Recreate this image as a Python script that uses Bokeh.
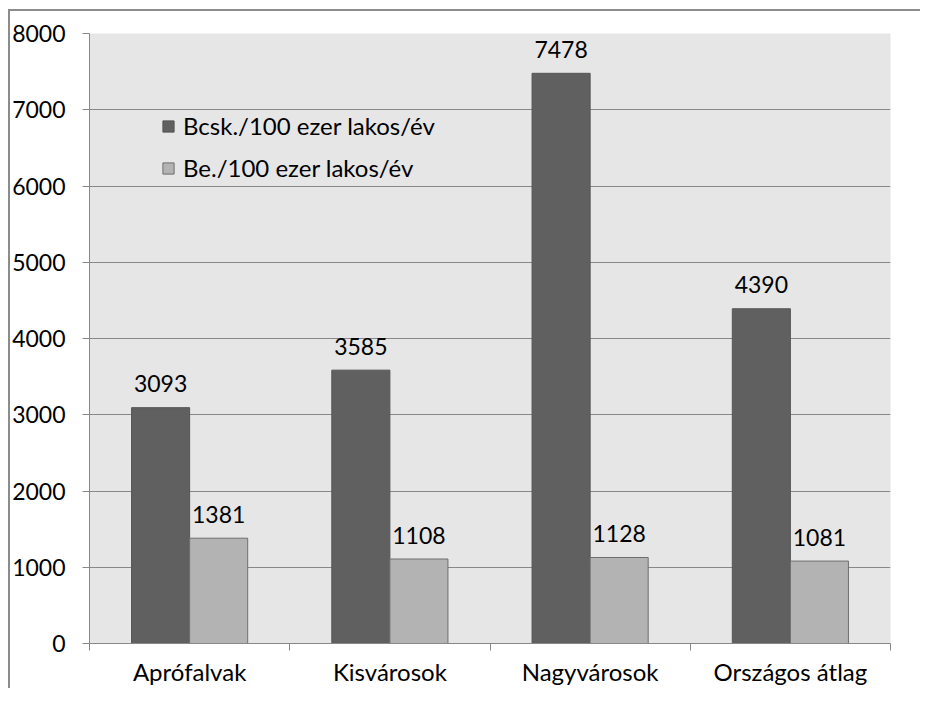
from bokeh.plotting import figure
from bokeh.models import Range1d, FixedTicker, ColumnDataSource, Legend, LegendItem
from bokeh.transform import dodge
from bokeh.core.properties import value
from bokeh.embed import file_html
from bokeh.resources import INLINE

categories = ["Aprófalvak", "Kisvárosok", "Nagyvárosok", "Országos átlag"]
series_names = ["Bcsk./100 ezer lakos/év", "Be./100 ezer lakos/év"]
bcsk = [3093, 3585, 7478, 4390]
be = [1381, 1108, 1128, 1081]
y_ticks = [0, 1000, 2000, 3000, 4000, 5000, 6000, 7000, 8000]

FONT = "Lato"
FS_NUM = "23px"
FS_TXT = "24px"

x = [i + 0.5 for i in range(len(categories))]
source = ColumnDataSource(dict(
    x=x, bcsk=bcsk, be=be,
    bcsk_lbl=[str(v) for v in bcsk], be_lbl=[str(v) for v in be],
))

p = figure(width=920, height=688, output_backend="svg", toolbar_location=None,
           x_range=Range1d(0, len(categories)), y_range=Range1d(0, 8000),
           min_border_left=89, min_border_right=30, min_border_top=33, min_border_bottom=45)
p.styles = {
    "background-color": "white",
    "background-image": "linear-gradient(#8c8c8c, #8c8c8c), linear-gradient(#8c8c8c, #8c8c8c)",
    "background-position": "8px 9px, 8px 9px",
    "background-size": "100% 2px, 2px 100%",
    "background-repeat": "no-repeat, no-repeat",
}
p.background_fill_color = "#E6E6E6"
p.border_fill_color = None
p.outline_line_color = None
p.xgrid.visible = False
p.ygrid.grid_line_color = "#888888"

r1 = p.vbar(x=dodge("x", -0.145, range=p.x_range), top="bcsk", width=0.29, source=source,
            fill_color="#606060", line_color="#555555")
r2 = p.vbar(x=dodge("x", 0.145, range=p.x_range), top="be", width=0.29, source=source,
            fill_color="#B3B3B3", line_color="#6e6e6e")

for col, lbl, off in (("bcsk", "bcsk_lbl", -0.145), ("be", "be_lbl", 0.145)):
    p.text(x=dodge("x", off, range=p.x_range), y=col, text=lbl, source=source,
           text_align="center", text_baseline="alphabetic", y_offset=-24,
           text_font=value(FONT), text_font_size=FS_NUM, text_color="#000000")

ya = p.yaxis[0]
ya.ticker = FixedTicker(ticks=y_ticks)
ya.major_tick_out = 7
ya.major_tick_in = 0
ya.minor_tick_out = 0
ya.minor_tick_in = 0
ya.axis_line_color = "#888888"
ya.major_tick_line_color = "#888888"
ya.major_label_standoff = 17
ya.major_label_text_font = FONT
ya.major_label_text_font_size = FS_NUM
ya.major_label_text_color = "#000000"

xa = p.xaxis[0]
xa.ticker = FixedTicker(ticks=x, minor_ticks=list(range(len(categories) + 1)))
xa.major_label_overrides = {xv: c for xv, c in zip(x, categories)}
xa.major_tick_line_color = None
xa.major_tick_out = 0
xa.major_tick_in = 0
xa.minor_tick_out = 7
xa.minor_tick_in = 0
xa.minor_tick_line_color = "#888888"
xa.axis_line_color = "#888888"
xa.major_label_standoff = 6
xa.major_label_text_font = FONT
xa.major_label_text_font_size = FS_TXT
xa.major_label_text_color = "#000000"

legend = Legend(items=[LegendItem(label=series_names[0], renderers=[r1]),
                       LegendItem(label=series_names[1], renderers=[r2])],
                location=(72, 461), padding=0, margin=0, spacing=13,
                glyph_width=14, glyph_height=14, label_height=22, label_standoff=8,
                border_line_color=None, background_fill_alpha=0,
                label_text_font=FONT, label_text_font_size=FS_TXT, label_text_color="#000000")
p.add_layout(legend)

open("out.html", "w").write(file_html(p, INLINE))
